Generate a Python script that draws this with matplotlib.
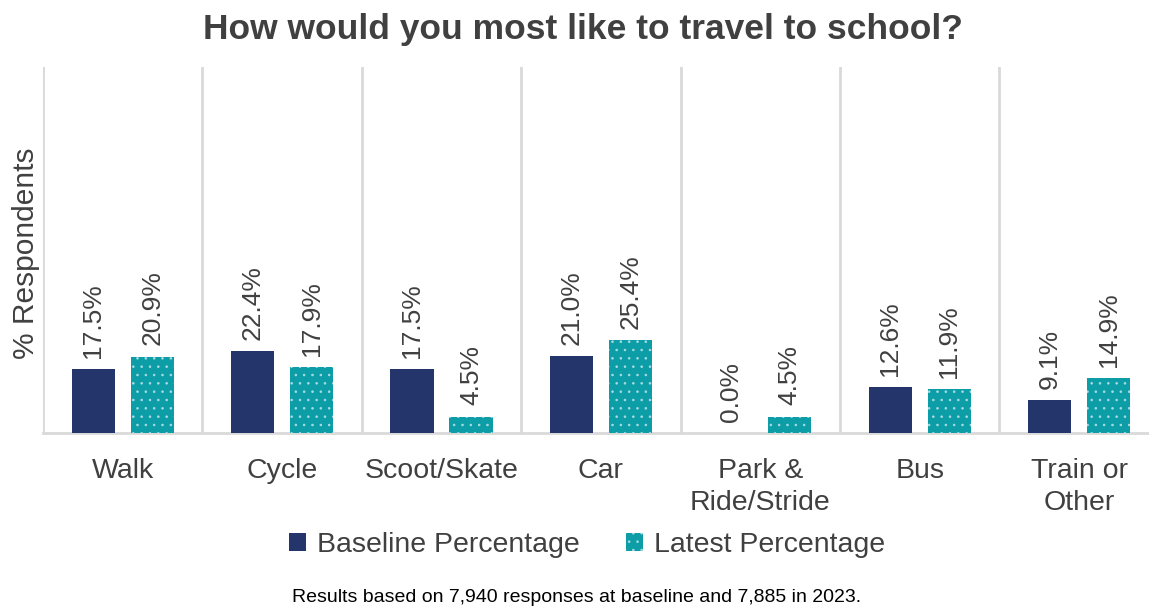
import matplotlib
matplotlib.use("Agg")
import matplotlib.pyplot as plt
import numpy as np

categorias = ["Walk", "Cycle", "Scoot/Skate", "Car", "Park &\nRide/Stride", "Bus", "Train or\nOther"]
baseline = [17.5, 22.4, 17.5, 21.0, 0.0, 12.6, 9.1]
latest = [20.9, 17.9, 4.5, 25.4, 4.5, 11.9, 14.9]
series = ["Baseline Percentage", "Latest Percentage"]

NAVY, TEAL, TEXTO, GRADE = "#24356b", "#0c9da7", "#404040", "#d9d9d9"

plt.rcParams["font.family"] = ["Liberation Sans", "DejaVu Sans"]
plt.rcParams["hatch.color"] = "#a9dde1"
plt.rcParams["hatch.linewidth"] = 0.6

fig = plt.figure(figsize=(11.49, 6.11), dpi=100)
ax = fig.add_axes([43 / 1149, 178 / 611, 7 * 159.4 / 1149, 366 / 611])

x = np.arange(len(categorias))
larg, desl = 0.27, 0.185
b1 = ax.bar(x - desl, baseline, larg, color=NAVY, label=series[0], zorder=3)
b2 = ax.bar(x + desl, latest, larg, color=TEAL, hatch="..", label=series[1], zorder=3)

for barras, vals in ((b1, baseline), (b2, latest)):
    for r, v in zip(barras, vals):
        ax.annotate(f"{v:.1f}%", (r.get_x() + r.get_width() / 2, v),
                    xytext=(0, 8), textcoords="offset points", rotation=90,
                    ha="center", va="bottom", fontsize=19, color=TEXTO)

ax.set_xlim(-0.5, len(categorias) - 0.5)
ax.set_ylim(0, 100)
ax.set_xticks(x)
ax.set_xticklabels(categorias, fontsize=20.5, color=TEXTO, linespacing=1.3)
ax.tick_params(axis="x", length=0, pad=18)
ax.set_yticks([])
ax.set_xticks(np.arange(len(categorias) + 1) - 0.5, minor=True)
ax.tick_params(axis="x", which="minor", length=0)
ax.grid(axis="x", which="minor", color=GRADE, lw=2, zorder=0)
ax.grid(axis="x", which="major", visible=False)
for lado in ("top", "right", "left"):
    ax.spines[lado].set_visible(False)
ax.spines["bottom"].set_color(GRADE)
ax.spines["bottom"].set_linewidth(2)

ax.set_ylabel("% Respondents", fontsize=21.5, color=TEXTO)
ax.yaxis.set_label_coords(-3 / (7 * 159.4), 0.49)

fig.text(583 / 1149, 1 - 30 / 611, "How would you most like to travel to school?",
         ha="center", va="center", fontsize=25.5, fontweight="bold", color=TEXTO)

leg = fig.legend(handles=[b1, b2], labels=series, loc="center", bbox_to_anchor=(587 / 1149, 1 - 545 / 611),
                 ncol=2, frameon=False, fontsize=20.5, handlelength=0.6, handleheight=0.6,
                 handletextpad=0.4, columnspacing=1.6, labelcolor=TEXTO)

fig.text(577 / 1149, 1 - 598 / 611, "Results based on 7,940 responses at baseline and 7,885 in 2023.",
         ha="center", va="center", fontsize=14, color="black")

fig.savefig("out.png", dpi=100, facecolor="white")
